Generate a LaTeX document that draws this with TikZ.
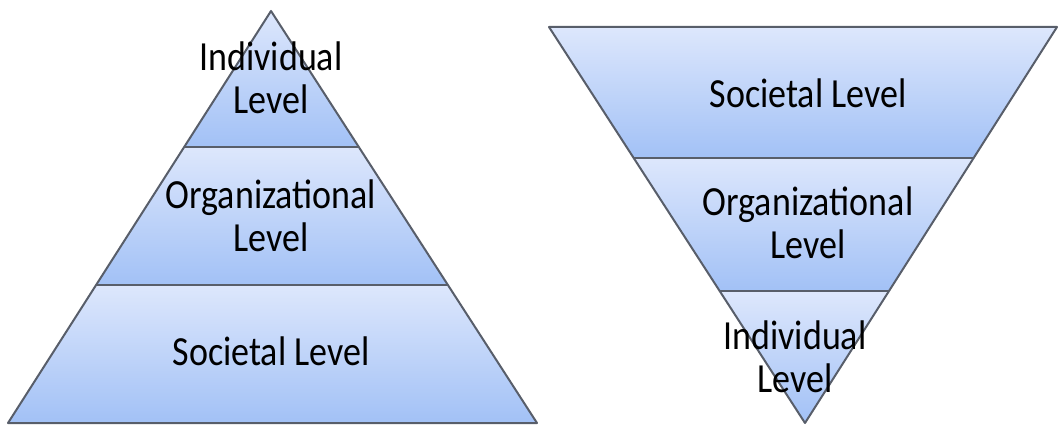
\documentclass[tikz,border=0pt]{standalone}
\usepackage{fontspec}
\setmainfont{Carlito}
\usetikzlibrary{calc}
\definecolor{lighttop}{RGB}{221,231,252}
\definecolor{darkbot}{RGB}{162,193,246}
\definecolor{edgegray}{RGB}{88,94,106}
% text of a level, a little taller than wide
\newcommand{\lvltext}[1]{\scalebox{1}[1.15]{\begin{tabular}{@{}c@{}}#1\end{tabular}}}
\tikzset{
  band/.style={top color=lighttop,bottom color=darkbot},
  rim/.style={draw=edgegray,line width=2pt,line join=round},
  lvl/.style={font=\fontsize{36}{37.4}\selectfont,text=black,inner sep=0pt}
}
\begin{document}
\begin{tikzpicture}[x=1pt,y=-1pt]
\useasboundingbox (0,0) rectangle (1060,425);

% The pyramid
\coordinate (pA) at (271,11);
\coordinate (pL) at (8,423);
\coordinate (pR) at (537,423);
\coordinate (pL1) at ($(pA)!0.330!(pL)$);
\coordinate (pR1) at ($(pA)!0.330!(pR)$);
\coordinate (pL2) at ($(pA)!0.665!(pL)$);
\coordinate (pR2) at ($(pA)!0.665!(pR)$);

\shade[band] (pA)--(pR1)--(pL1)--cycle;
\shade[band] (pL1)--(pR1)--(pR2)--(pL2)--cycle;
\shade[band] (pL2)--(pR2)--(pR)--(pL)--cycle;
\draw[rim] (pL1)--(pR1);
\draw[rim] (pL2)--(pR2);
\draw[rim] (pA)--(pR)--(pL)--cycle;

\node[lvl] (pind) at (271,83) {\lvltext{Individual\\Level}};
\node[lvl] (porg) at (271,221) {\lvltext{Organizational\\Level}};
\node[lvl] (psoc) at (271,357) {\lvltext{Societal Level}};

% The inverted pyramid
\coordinate (vL) at (549,27);
\coordinate (vR) at (1057,27);
\coordinate (vV) at (805,423);
\coordinate (vL1) at ($(vL)!0.331!(vV)$);
\coordinate (vR1) at ($(vR)!0.331!(vV)$);
\coordinate (vL2) at ($(vL)!0.667!(vV)$);
\coordinate (vR2) at ($(vR)!0.667!(vV)$);

\shade[band] (vL)--(vR)--(vR1)--(vL1)--cycle;
\shade[band] (vL1)--(vR1)--(vR2)--(vL2)--cycle;
\shade[band] (vL2)--(vR2)--(vV)--cycle;
\draw[rim] (vL1)--(vR1);
\draw[rim] (vL2)--(vR2);
\draw[rim] (vL)--(vR)--(vV)--cycle;

\node[lvl] (vsoc) at (808,99) {\lvltext{Societal Level}};
\node[lvl] (vorg) at (808,228) {\lvltext{Organizational\\Level}};
\node[lvl] (vind) at (795,362) {\lvltext{Individual\\Level}};

\end{tikzpicture}
\end{document}
